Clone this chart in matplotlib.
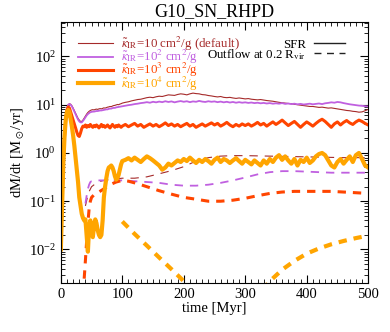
import numpy as np
import matplotlib
matplotlib.use("Agg")
import matplotlib.pyplot as plt
from matplotlib.lines import Line2D
from matplotlib.ticker import MultipleLocator, LogLocator

plt.rcParams["font.family"] = ["Liberation Serif", "DejaVu Serif"]
plt.rcParams["mathtext.fontset"] = "stix"
plt.rcParams["lines.scale_dashes"] = False

# time grid for the SFR curves: 2 Myr steps up to 100, then 5 Myr steps
t_sfr = np.concatenate([np.arange(0, 100, 2), np.arange(100, 505, 5)])

sfr_k1 = [
    0.009, 0.05, 0.4, 1.8, 5, 8.5, 10, 10.5, 10.2, 9.5,
    8.5, 7.5, 6.6, 5.8, 5.2, 4.8, 4.5, 4.5, 4.8, 5.3,
    5.9, 6.4, 6.9, 7.3, 7.6, 7.8, 7.9, 7.8, 8.0, 8.1,
    8.0, 8.2, 8.3, 8.2, 8.4, 8.6, 8.5, 8.7, 8.9, 9.0,
    9.2, 9.1, 9.4, 9.6, 9.7, 9.9, 10.1, 10.0, 10.3, 10.5,
    10.8, 11.2, 11.5, 12.0, 12.4, 12.8, 13.0, 13.5, 14.0, 14.3,
    14.0, 14.6, 15.0, 14.8, 15.4, 16.0, 15.8, 15.6, 16.3, 16.8,
    16.5, 16.0, 16.8, 17.4, 17.0, 16.8, 16.2, 16.0, 15.5, 15.2,
    14.8, 14.5, 14.8, 14.2, 14.0, 14.2, 13.8, 13.5, 13.8, 13.5,
    13.2, 13.4, 13.0, 12.8, 12.6, 12.8, 12.5, 12.2, 12.0, 11.8,
    11.5, 11.2, 11.0, 10.8, 10.6, 10.5, 10.2, 10.0, 9.8, 9.6,
    9.4, 9.2, 9.2, 9.0, 8.8, 8.9, 8.7, 8.5, 8.6, 8.4,
    8.2, 8.0, 7.8, 7.6, 7.5, 7.3, 7.2, 7.0, 7.1, 7.5, 8.0,
]

sfr_k2 = [
    0.008, 0.05, 0.4, 1.8, 5, 8.5, 10, 10.3, 10, 9.2,
    8.2, 7.2, 6.3, 5.5, 4.9, 4.5, 4.3, 4.3, 4.6, 5.0,
    5.5, 6.0, 6.4, 6.7, 7.0, 7.1, 7.2, 7.2, 7.3, 7.4,
    7.4, 7.5, 7.6, 7.6, 7.7, 7.8, 7.9, 8.0, 8.0, 8.2,
    8.3, 8.3, 8.5, 8.6, 8.6, 8.8, 8.9, 9.0, 9.1, 9.2,
    9.3, 9.6, 9.8, 10.0, 10.3, 10.5, 10.8, 11.0, 11.3, 11.0,
    11.5, 11.2, 11.6, 11.3, 11.8, 11.4, 11.7, 11.2, 11.6, 11.9,
    11.5, 11.8, 11.3, 11.7, 11.5, 12.0, 11.6, 11.4, 11.8, 11.5,
    11.7, 11.3, 11.6, 11.2, 11.5, 11.1, 11.4, 11.0, 11.3, 11.0,
    11.2, 10.9, 11.1, 10.8, 11.0, 10.7, 10.9, 10.6, 10.8, 10.5,
    10.7, 10.5, 10.8, 10.4, 10.6, 10.3, 10.5, 10.2, 10.4, 10.1,
    10.3, 10.5, 10.2, 10.4, 10.6, 10.3, 10.7, 10.9, 11.2, 11.0,
    11.4, 11.2, 10.8, 10.5, 10.2, 10.0, 9.8, 9.6, 9.5, 9.3, 9.2,
]

sfr_k3 = [
    0.02, 0.1, 0.6, 2.2, 5, 7.8, 9, 8.5, 7, 5.8,
    4.8, 4.0, 3.3, 2.7, 2.3, 2.2, 2.6, 3.2, 3.6, 3.5,
    3.8, 3.4, 3.7, 3.5, 3.9, 3.6, 3.4, 3.7, 3.5, 3.8,
    3.6, 3.3, 3.6, 3.9, 3.5, 3.7, 3.4, 3.6, 3.8, 3.5,
    3.3, 3.6, 3.9, 3.6, 3.4, 3.7, 3.5, 3.8, 3.6, 3.4,
    3.6, 3.9, 3.5, 3.8, 4.1, 3.6, 3.9, 3.4, 3.7, 4.0,
    3.6, 3.9, 3.5, 3.8, 4.2, 3.7, 4.0, 3.6, 3.9, 3.5,
    3.8, 4.1, 3.6, 3.9, 3.4, 3.7, 4.0, 3.6, 3.9, 4.2,
    3.8, 4.1, 3.6, 3.9, 4.3, 3.8, 3.5, 3.9, 3.6, 4.0,
    3.7, 4.0, 3.6, 3.9, 4.3, 3.8, 4.1, 3.6, 4.0, 4.4,
    3.9, 4.3, 4.8, 4.2, 3.7, 4.1, 4.5, 3.9, 3.4, 3.9,
    4.4, 4.0, 3.6, 4.1, 4.6, 5.0, 4.5, 3.9, 3.4, 4.0,
    4.4, 3.8, 4.3, 4.7, 4.2, 3.9, 4.4, 4.8, 4.5, 4.1, 3.8,
]

sfr_k4 = [
    0.01, 0.08, 0.6, 2.2, 5, 7.2, 7.8, 7.0, 5.0, 3.5,
    2.3, 1.4, 0.8, 0.45, 0.25, 0.12, 0.08, 0.055, 0.045, 0.04,
    0.042, 0.02, 0.009, 0.03, 0.04, 0.025, 0.018, 0.03, 0.042, 0.035,
    0.025, 0.02, 0.018, 0.02, 0.04, 0.12, 0.2, 0.3, 0.42, 0.5,
    0.52, 0.55, 0.5, 0.42, 0.33, 0.28, 0.3, 0.35, 0.45, 0.58,
    0.68, 0.72, 0.78, 0.7, 0.8, 0.72, 0.65, 0.75, 0.85, 0.78,
    0.7, 0.62, 0.55, 0.45, 0.5, 0.6, 0.55, 0.62, 0.7, 0.65,
    0.75, 0.68, 0.8, 0.7, 0.62, 0.72, 0.65, 0.75, 0.68, 0.6,
    0.72, 0.8, 0.65, 0.75, 0.7, 0.62, 0.7, 0.78, 0.68, 0.6,
    0.72, 0.65, 0.58, 0.7, 0.62, 0.55, 0.7, 0.6, 0.75, 0.65,
    0.8, 0.9, 0.72, 0.85, 0.7, 0.6, 0.75, 0.55, 0.72, 0.65,
    0.8, 0.62, 0.7, 0.85, 0.95, 1.0, 0.9, 0.7, 0.55, 0.5,
    0.65, 0.75, 0.6, 0.72, 0.85, 0.65, 0.9, 1.0, 0.75, 0.55, 0.5,
]

# outflow rates at 0.2 R_vir
t_out1 = [40, 45, 50, 60, 70, 80, 90, 100, 120, 140, 160, 180, 200, 220, 240,
          260, 280, 300, 320, 340, 360, 380, 400, 420, 440, 460, 480, 500]
out_k1 = [0.08, 0.15, 0.2, 0.25, 0.27, 0.28, 0.29, 0.3, 0.3, 0.32, 0.37, 0.43,
          0.52, 0.68, 0.8, 0.86, 0.88, 0.88, 0.87, 0.86, 0.85, 0.84, 0.83,
          0.82, 0.81, 0.8, 0.8, 0.8]

t_out2 = [40, 42, 44, 46, 48, 50, 55, 60, 70, 80, 90, 100, 120, 140, 160, 180,
          200, 220, 240, 260, 280, 300, 320, 340, 360, 380, 400, 420, 440, 460,
          480, 500]
out_k2 = [0.09, 0.13, 0.18, 0.22, 0.25, 0.26, 0.27, 0.27, 0.27, 0.27, 0.27,
          0.27, 0.26, 0.25, 0.24, 0.22, 0.21, 0.21, 0.22, 0.24, 0.27, 0.31,
          0.36, 0.4, 0.42, 0.42, 0.41, 0.4, 0.39, 0.39, 0.39, 0.39]

t_out3 = [36, 38, 40, 42, 44, 46, 48, 50, 55, 60, 70, 80, 90, 100, 110, 120,
          130, 140, 160, 180, 200, 220, 240, 260, 280, 300, 320, 340, 360, 380,
          400, 420, 440, 460, 480, 500]
out_k3 = [0.0012, 0.0025, 0.006, 0.015, 0.035, 0.07, 0.1, 0.12, 0.14, 0.15,
          0.18, 0.22, 0.25, 0.27, 0.26, 0.24, 0.22, 0.2, 0.165, 0.14, 0.12,
          0.11, 0.1, 0.1, 0.105, 0.115, 0.13, 0.145, 0.155, 0.16, 0.16, 0.16,
          0.16, 0.155, 0.15, 0.145]

t_out4 = [100, 120, 140, 160, 180, 200, 220, 240, 260, 280, 300, 320, 340,
          360, 380, 400, 420, 440, 460, 480, 500]
out_k4 = [0.038, 0.021, 0.012, 0.0068, 0.0039, 0.0022, 0.0013, 0.0008,
          0.00055, 0.0005, 0.0006, 0.0011, 0.0022, 0.0038, 0.0058, 0.0082,
          0.0105, 0.0128, 0.015, 0.0172, 0.0194]

colors = ["#a52a2a", "#c060e0", "#ff4500", "#ffa500"]
widths = [0.8, 1.3, 2.2, 3.0]
labels = [r"$\tilde{\kappa}_{\rm IR}$=10 cm$^2$/g (default)",
          r"$\tilde{\kappa}_{\rm IR}$=10$^2$ cm$^2$/g",
          r"$\tilde{\kappa}_{\rm IR}$=10$^3$ cm$^2$/g",
          r"$\tilde{\kappa}_{\rm IR}$=10$^4$ cm$^2$/g"]

sfrs = [sfr_k1, sfr_k2, sfr_k3, sfr_k4]
outs = [(t_out1, out_k1), (t_out2, out_k2), (t_out3, out_k3), (t_out4, out_k4)]

fig = plt.figure(figsize=(3.9, 3.32), dpi=100)
ax = fig.add_axes([0.156, 0.147, 0.788, 0.787])

handles = []
for sfr, (to, out), c, lw in zip(sfrs, outs, colors, widths):
    h, = ax.plot(t_sfr, sfr, color=c, lw=lw)
    ax.plot(to, out, color=c, lw=lw, dashes=(6, 5))
    handles.append(h)

ax.set_yscale("log")
ax.set_xlim(0, 500)
ax.set_ylim(2e-3, 520)
ax.xaxis.set_major_locator(MultipleLocator(100))
ax.xaxis.set_minor_locator(MultipleLocator(10))
ax.yaxis.set_minor_locator(LogLocator(base=10, subs=np.arange(2, 10)))
ax.tick_params(which="both", direction="in", top=True, right=True, labelsize=10.5)
ax.tick_params(which="major", length=6)
ax.tick_params(which="minor", length=3)

ax.set_xlabel("time [Myr]", fontsize=10.5, labelpad=1)
ax.set_ylabel(r"dM/dt [M$_\odot$/yr]", fontsize=10.5, labelpad=2)
ax.set_title("G10_SN_RHPD", fontsize=13, pad=4)

leg1 = ax.legend(handles, labels, loc="upper left", bbox_to_anchor=(0.04, 0.97),
                 frameon=False, fontsize=9.3, handlelength=2.7, handletextpad=0.6,
                 labelspacing=-0.38, borderaxespad=0)
for txt, c in zip(leg1.get_texts(), colors):
    txt.set_color(c)
ax.add_artist(leg1)

kind = [Line2D([], [], color="#222222", lw=1.0),
        Line2D([], [], color="#222222", lw=1.0, dashes=(5, 4))]
ax.legend(kind, ["SFR", r"Outflow at 0.2 R$_{\rm vir}$"], loc="upper right",
          bbox_to_anchor=(0.94, 0.955), frameon=False, fontsize=9.3,
          markerfirst=False, handlelength=2.4, handletextpad=0.6,
          labelspacing=-0.3, borderaxespad=0)

fig.savefig("out.png", dpi=100)
